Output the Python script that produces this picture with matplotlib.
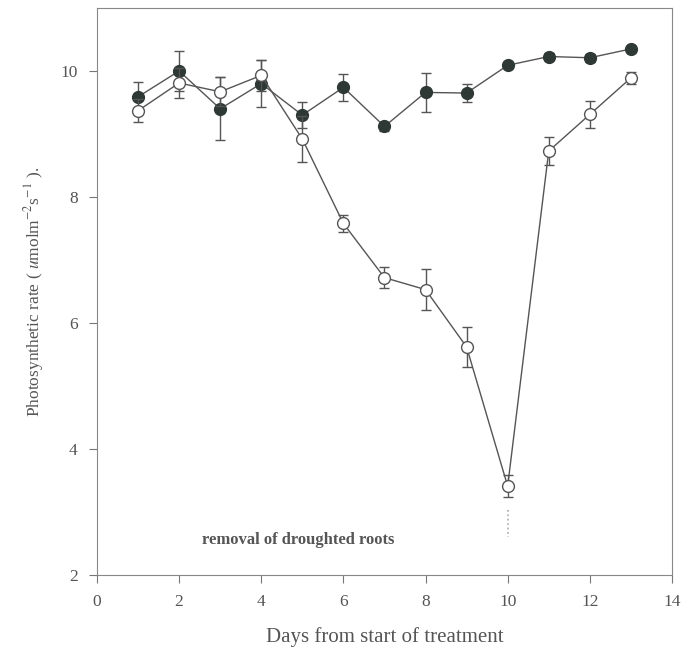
import numpy as np
import matplotlib.pyplot as plt

plt.rcParams['font.family'] = ['Liberation Serif', 'DejaVu Serif']
plt.rcParams['mathtext.fontset'] = 'stix'

days = [1, 2, 3, 4, 5, 6, 7, 8, 9, 10, 11, 12, 13]
control = [9.59, 10.0, 9.40, 9.80, 9.30, 9.74, 9.12, 9.66, 9.65, 10.09, 10.23, 10.21, 10.35]
control_err = [0.24, 0.31, 0.50, 0.37, 0.20, 0.22, 0.07, 0.31, 0.15, 0.05, 0.05, 0.06, 0.05]
drought = [9.37, 9.81, 9.67, 9.93, 8.92, 7.58, 6.72, 6.53, 5.62, 3.41, 8.73, 9.31, 9.89]
drought_err = [0.18, 0.24, 0.23, 0.24, 0.36, 0.14, 0.17, 0.32, 0.32, 0.17, 0.22, 0.22, 0.10]

fig = plt.figure(figsize=(6.81, 6.55), dpi=100)
ax = fig.add_axes([0.1424, 0.1221, 0.8443, 0.8657])

line_c = '#555555'
ax.errorbar(days, control, yerr=control_err, color=line_c, lw=1, elinewidth=1,
            capsize=3.5, marker='o', ms=8.5, mfc='#2e3835', mec='#2e3835', zorder=3)
ax.errorbar(days, drought, yerr=drought_err, color=line_c, lw=1, elinewidth=1,
            capsize=3.5, marker='o', ms=8.5, mfc='white', mec=line_c, zorder=4)

# faint arrow under day 10
ax.plot([10, 10], [3.03, 2.6], color='#aaaaaa', lw=1.2, ls=':')

ax.text(2.56, 2.55, 'removal of droughted roots', fontsize=12, fontweight='bold',
        color='#555555', va='center', ha='left')

ax.set_xlim(0, 14)
ax.set_ylim(2, 11)
ax.set_xticks(np.arange(0, 15, 2))
ax.set_yticks([2, 4, 6, 8, 10])
ax.tick_params(direction='out', length=6, width=0.8, color='#777777',
               labelsize=12.5, labelcolor='#555555', pad=8)
for s in ax.spines.values():
    s.set_color('#888888')
    s.set_linewidth(0.8)

ax.set_xlabel('Days from start of treatment', fontsize=15, color='#555555', labelpad=12)
ax.set_ylabel(r'Photosynthetic rate ( $u$molm$^{-2}$s$^{-1}$ ).', fontsize=12.5,
              color='#555555', labelpad=10)

fig.savefig('out.png', dpi=100)
plt.close()
